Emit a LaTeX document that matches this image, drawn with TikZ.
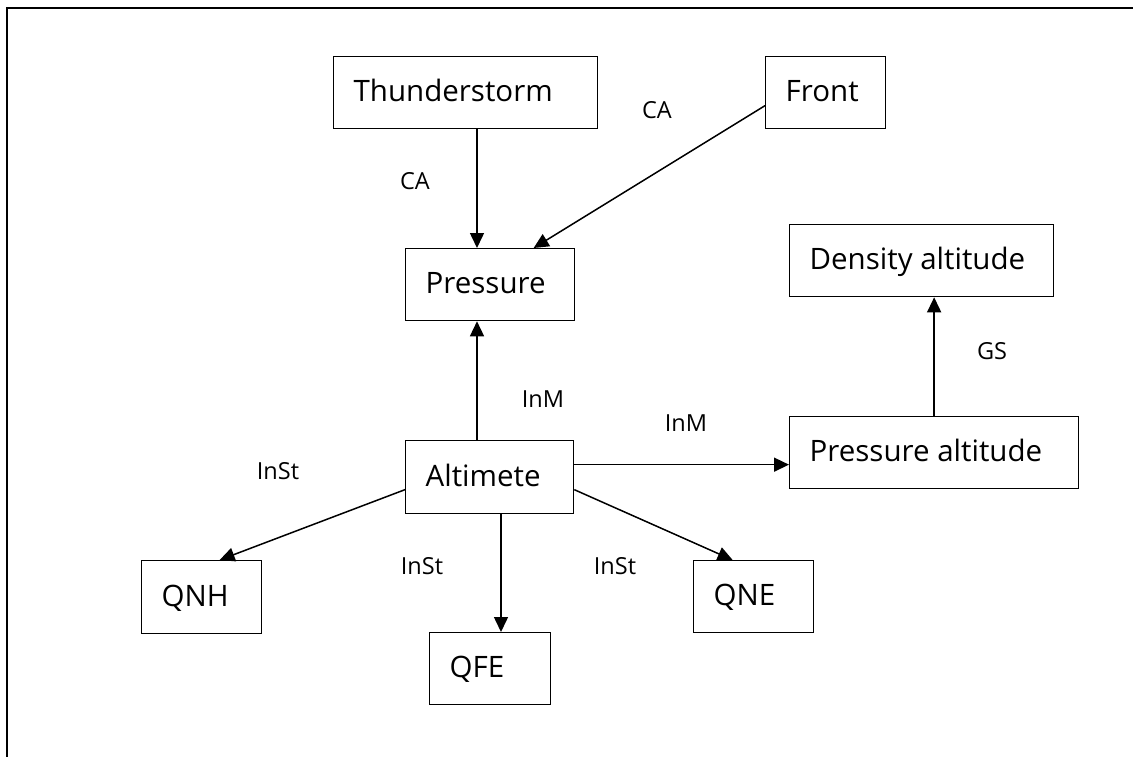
\documentclass[tikz,border=0pt]{standalone}
\usepackage{fontspec}
\setmainfont{Open Sans}
\usetikzlibrary{arrows.meta,calc}
\begin{document}
\begin{tikzpicture}[x=1pt,y=-1pt,
  box/.style={draw, line width=1.3pt, inner xsep=20pt, inner ysep=0pt,
    text height=22pt, text depth=4pt, anchor=north west,
    font=\fontsize{29.5}{34}\selectfont},
  lbl/.style={anchor=base, inner sep=0pt, font=\fontsize{23.5}{28}\selectfont},
  arr/.style={line width=1.5pt, -{Triangle[length=15pt,width=14pt]}}]
\useasboundingbox (0,0) rectangle (1133,756);
\draw[line width=2.2pt] (6.8,760) -- (6.8,7.6) -- (1140,7.6);
% boxes
\node[box, minimum width=264pt, minimum height=72pt] (ts) at (333,56) {\makebox[224pt][l]{Thunderstorm}};
\node[box, minimum width=120pt, minimum height=72pt] (fr) at (765,56) {\makebox[80pt][l]{Front}};
\node[box, minimum width=169pt, minimum height=72pt] (pr) at (405,248) {\makebox[129pt][l]{Pressure}};
\node[box, minimum width=264pt, minimum height=72pt] (da) at (789,224) {\makebox[224pt][l]{Density altitude}};
\node[box, minimum width=289pt, minimum height=72pt] (pa) at (789,416) {\makebox[249pt][l]{Pressure altitude}};
\node[box, minimum width=168pt, minimum height=73pt] (alt) at (405,440) {\makebox[128pt][l]{Altimete}};
\node[box, minimum width=120pt, minimum height=73pt] (qnh) at (141,560) {\makebox[80pt][l]{QNH}};
\node[box, minimum width=121pt, minimum height=72pt] (qfe) at (429,632) {\makebox[81pt][l]{QFE}};
\node[box, minimum width=120pt, minimum height=72pt] (qne) at (693,560) {\makebox[80pt][l]{QNE}};
% column coordinates
\coordinate (xA) at (477,0);
\coordinate (xB) at (501,0);
% connectors
\draw[arr] (ts.south -| xA) -- (pr.north -| xA);
\draw[arr] ([yshift=-13pt]fr.west) -- ([xshift=43.5pt]pr.north);
\draw[arr] (alt.north -| xA) -- (pr.south -| xA);
\draw[arr] ([yshift=12.5pt]alt.east) coordinate (s1) -- (s1 -| pa.west);
\draw[arr] (pa.north) -- (da.south -| pa.north);
\draw[arr] ([yshift=-12.5pt]alt.west) -- ([xshift=18pt]qnh.north);
\draw[arr] (alt.south -| xB) -- (qfe.north -| xB);
\draw[arr] ([yshift=-12.5pt]alt.east) -- ([xshift=-21pt]qne.north);
% labels
\node[lbl] (l1) at (415,189) {CA};
\node[lbl] (l2) at (657,118) {CA};
\node[lbl] (l3) at (543,407) {InM};
\node[lbl] (l4) at (686,431) {InM};
\node[lbl] (l5) at (992,359) {GS};
\node[lbl] (l6) at (278,479) {InSt};
\node[lbl] (l7) at (422,574) {InSt};
\node[lbl] (l8) at (615,574) {InSt};
\end{tikzpicture}
\end{document}
